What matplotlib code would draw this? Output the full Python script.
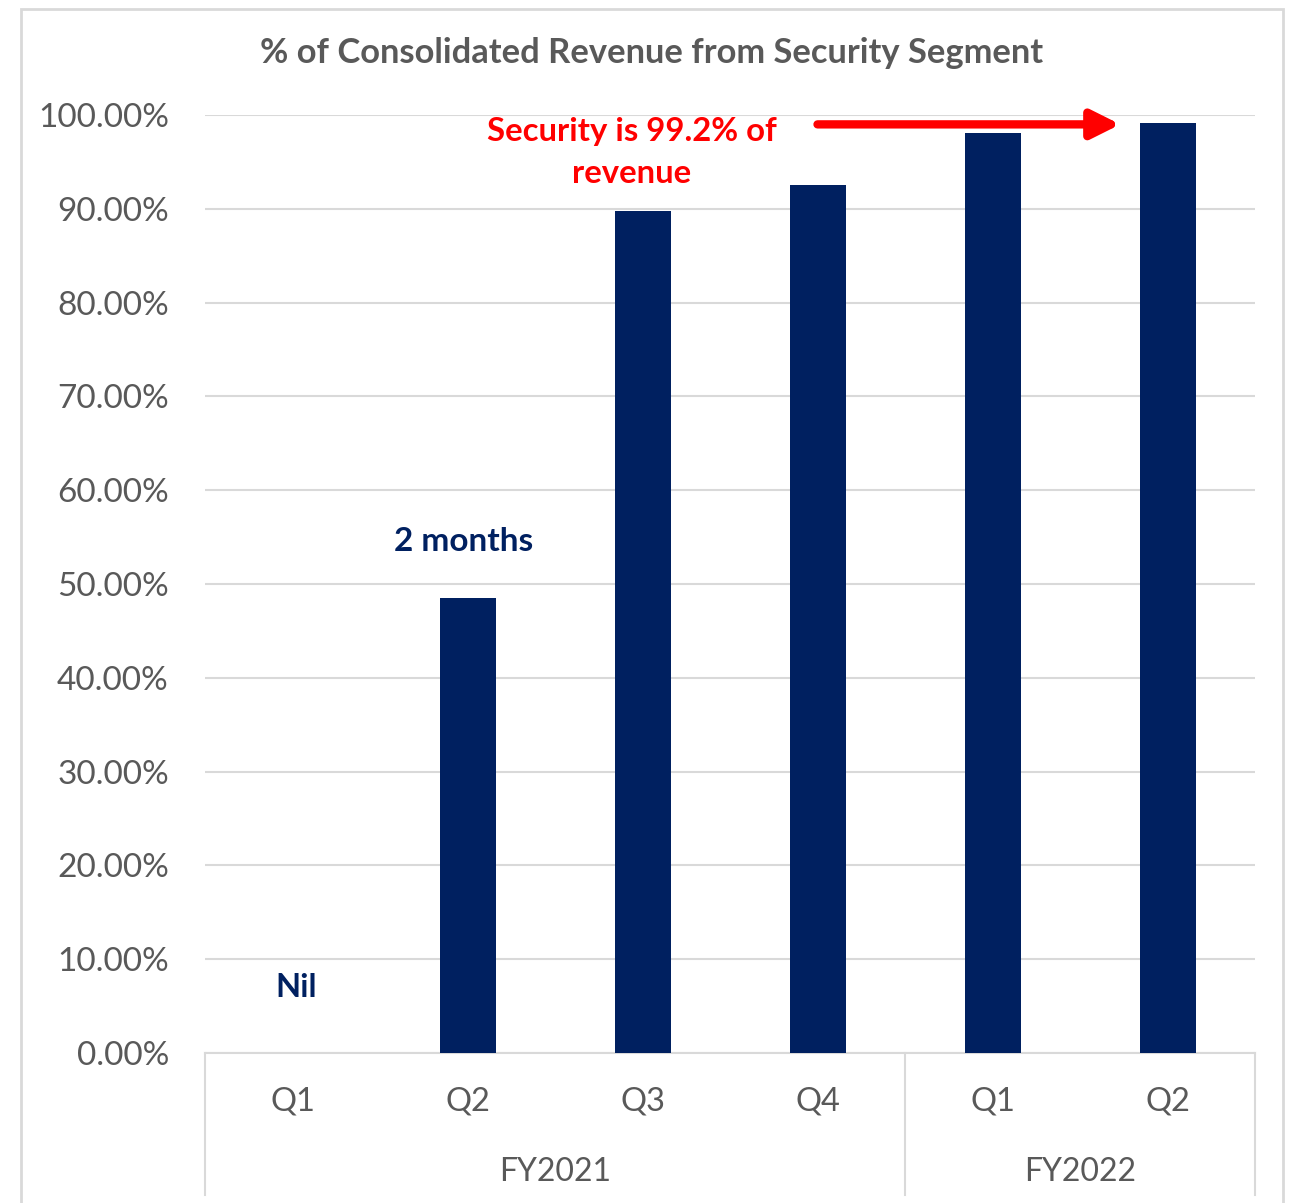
import matplotlib.pyplot as plt
import matplotlib.patches as patches
from matplotlib.ticker import FuncFormatter

quarters = ['Q1', 'Q2', 'Q3', 'Q4', 'Q1', 'Q2']
years = ['FY2021', 'FY2022']
year_spans = [(0, 3), (4, 5)]
security_share = [0.0, 0.485, 0.898, 0.925, 0.981, 0.992]
y_ticks = [0.0, 0.1, 0.2, 0.3, 0.4, 0.5, 0.6, 0.7, 0.8, 0.9, 1.0]

navy = '#002060'
grey = '#595959'
plt.rcParams['font.family'] = ['Lato', 'DejaVu Sans']

fig = plt.figure(figsize=(12.97, 12.03), dpi=100)
ax = fig.add_axes([205 / 1297, 1 - 1053 / 1203, 1050 / 1297, 938 / 1203])

# outer chart frame
fig.patches.append(patches.Rectangle((21 / 1297, -0.01), 1262 / 1297, 1 - 9 / 1203 + 0.01,
                                     transform=fig.transFigure, fill=False,
                                     edgecolor='#d9d9d9', linewidth=2))

x = list(range(len(quarters)))
ax.bar(x, security_share, width=0.32, color=navy, zorder=3)

ax.set_xlim(-0.5, len(quarters) - 0.5)
ax.set_ylim(0, 1.0)
ax.set_yticks(y_ticks)
ax.yaxis.set_major_formatter(FuncFormatter(lambda v, p: f'{v:.2%}'))
ax.tick_params(axis='y', length=0, pad=26, labelsize=24, labelcolor=grey)
ax.set_xticks([])
ax.grid(axis='y', color='#d9d9d9', linewidth=1.5, zorder=0)
for s in ['top', 'right', 'left']:
    ax.spines[s].set_visible(False)
ax.spines['bottom'].set_color('#d9d9d9')
ax.spines['bottom'].set_linewidth(1.5)

# two-level category axis
trans = ax.get_xaxis_transform()
for i, q in enumerate(quarters):
    ax.text(i, -0.052, q, transform=trans, ha='center', va='center', fontsize=23.5, color=grey)
for name, (a, b) in zip(years, year_spans):
    ax.text((a + b) / 2, -0.127, name, transform=trans, ha='center', va='center',
            fontsize=23, color=grey)
for xs in [-0.5, 3.5, 5.5]:
    ax.plot([xs, xs], [0, -0.151], transform=trans, color='#d9d9d9', linewidth=1.5,
            clip_on=False)

fig.text(652 / 1297, 1 - 53 / 1203, '% of Consolidated Revenue from Security Segment',
         ha='center', va='center', fontsize=24.8, fontweight='bold', color=grey)

ax.text(0.02, 0.07, 'Nil', ha='center', va='center', fontsize=23.5, fontweight='bold', color=navy)
ax.text(0.98, 0.545, '2 months', ha='center', va='center', fontsize=24, fontweight='bold', color=navy)
ax.text(1.94, 0.96, 'Security is 99.2% of\nrevenue', ha='center', va='center', fontsize=23.7,
        fontweight='bold', color='red', linespacing=1.55)
ax.annotate('', xy=(4.73, 0.99), xytext=(3.0, 0.99),
            arrowprops=dict(arrowstyle='-|>,head_length=1.7,head_width=0.85', color='red', lw=6,
                            shrinkA=0, shrinkB=0))

fig.savefig('out.png', dpi=100, facecolor='white')
